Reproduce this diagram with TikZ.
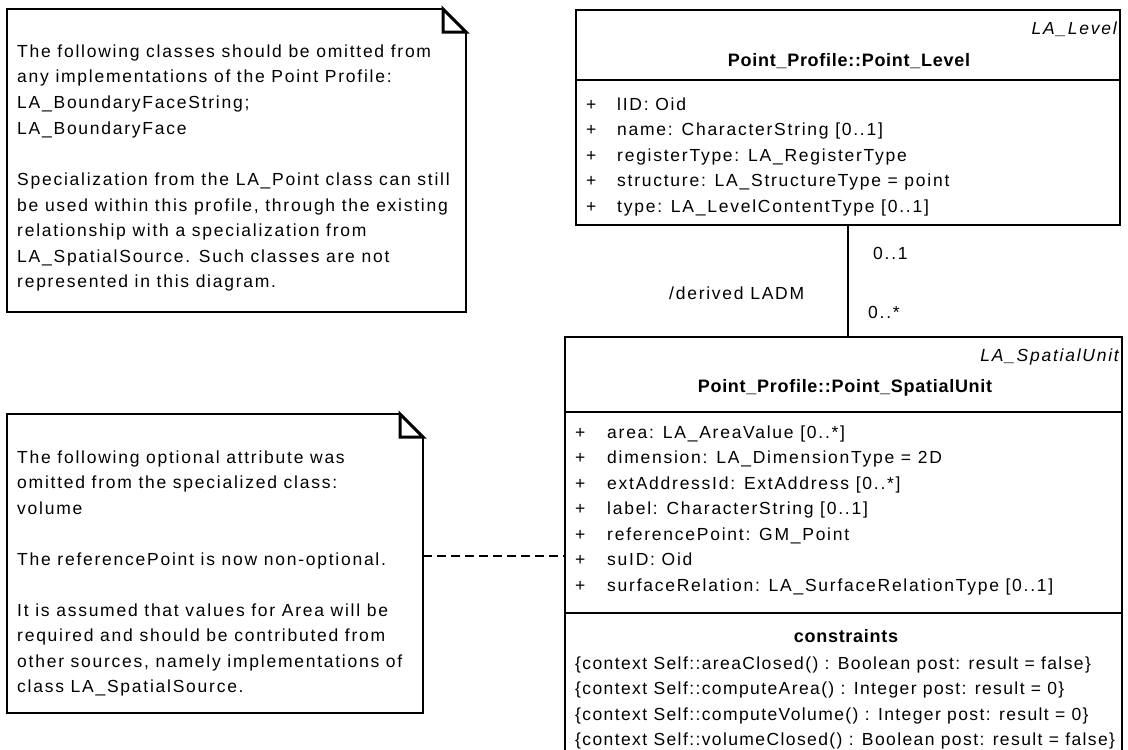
\documentclass[tikz,border=0pt]{standalone}
\usepackage{fontspec}
\setmainfont[LetterSpace=10]{Liberation Sans}
\newfontfamily\consfont[LetterSpace=8]{Liberation Sans}
\newfontfamily\namefont[LetterSpace=4]{Liberation Sans}
\begin{document}
\begin{tikzpicture}[x=1pt,y=-1pt,
  txt/.style={anchor=base west, inner sep=0, font=\fontsize{17.5}{20}\selectfont},
  constxt/.style={anchor=base west, inner sep=0, font=\fontsize{17.5}{20}\consfont},
  bold/.style={anchor=base, inner sep=0, font=\fontsize{18}{20}\namefont\bfseries},
  stereo/.style={anchor=base east, inner sep=0, font=\fontsize{17.5}{20}\selectfont\itshape},
  box/.style={inner sep=0, outer sep=0},
  classbd/.style={line width=2.6pt},
  divider/.style={line width=2.2pt},
  notebd/.style={line width=1.8pt, line join=miter},
  fold/.style={line width=3pt, line join=miter},
  assoc/.style={line width=2.2pt},
  anchorline/.style={line width=2.2pt, dash pattern=on 9pt off 5pt}
]
\clip (0,0) rectangle (1128,750);
\fill[white] (0,0) rectangle (1128,750);

% ---------- Note 1 ----------
\node[box, minimum width=459pt, minimum height=303pt] (n1) at (236.5,160.5) {};
\draw[notebd] (n1.south west) -- (n1.north west) -- ([xshift=-23pt]n1.north east)
  -- ([yshift=-23pt]n1.north east) -- (n1.south east) -- cycle;
\draw[fold] ([xshift=-23pt]n1.north east) -- ([xshift=-23pt,yshift=-23pt]n1.north east)
  -- ([yshift=-23pt]n1.north east) -- cycle;
\node[txt] (n1a) at (17,57) {The following classes should be omitted from};
\node[txt] (n1b) at (17,82.5) {any implementations of the Point Profile:};
\node[txt] (n1c) at (17,108) {LA\_BoundaryFaceString;};
\node[txt] (n1d) at (17,134) {LA\_BoundaryFace};
\node[txt] (n1e) at (17,185) {Specialization from the LA\_Point class can still};
\node[txt] (n1f) at (17,211) {be used within this profile, through the existing};
\node[txt] (n1g) at (17,236) {relationship with a specialization from};
\node[txt] (n1h) at (17,262) {LA\_SpatialSource. Such classes are not};
\node[txt] (n1i) at (17,287.5) {represented in this diagram.};

% ---------- Note 2 ----------
\node[box, minimum width=416pt, minimum height=299pt] (n2) at (215,563.5) {};
\draw[notebd] (n2.south west) -- (n2.north west) -- ([xshift=-23pt]n2.north east)
  -- ([yshift=-23pt]n2.north east) -- (n2.south east) -- cycle;
\draw[fold] ([xshift=-23pt]n2.north east) -- ([xshift=-23pt,yshift=-23pt]n2.north east)
  -- ([yshift=-23pt]n2.north east) -- cycle;
\node[txt] (n2a) at (17,463) {The following optional attribute was};
\node[txt] (n2b) at (17,488.5) {omitted from the specialized class:};
\node[txt] (n2c) at (17,514) {volume};
\node[txt] (n2d) at (17,565) {The referencePoint is now non-optional.};
\node[txt] (n2e) at (17,616) {It is assumed that values for Area will be};
\node[txt] (n2f) at (17,641.5) {required and should be contributed from};
\node[txt] (n2g) at (17,667) {other sources, namely implementations of};
\node[txt] (n2h) at (17,692.5) {class LA\_SpatialSource.};

% ---------- Class Point_Level ----------
\node[box, draw, classbd, minimum width=544pt, minimum height=215pt] (lvl) at (848,117.5) {};
\draw[divider] (lvl.west |- 0,80) -- (lvl.east |- 0,80);
\node[stereo] (lvls) at (1117,34) {LA\_Level};
\node[bold] (lvln) at (849,66) {Point\_Profile::Point\_Level};
\node[txt] (lp1) at (586,110) {+};
\node[txt] (la1) at (617,110) {lID: Oid};
\node[txt] (lp2) at (586,135.5) {+};
\node[txt] (la2) at (617,135.5) {name: CharacterString [0..1]};
\node[txt] (lp3) at (586,161) {+};
\node[txt] (la3) at (617,161) {registerType: LA\_RegisterType};
\node[txt] (lp4) at (586,186.5) {+};
\node[txt] (la4) at (617,186.5) {structure: LA\_StructureType = point};
\node[txt] (lp5) at (586,212) {+};
\node[txt] (la5) at (617,212) {type: LA\_LevelContentType [0..1]};

% ---------- Class Point_SpatialUnit ----------
\node[box, draw, classbd, minimum width=557pt, minimum height=433pt] (su) at (843.5,553.5) {};
\draw[divider] (su.west |- 0,412) -- (su.east |- 0,412);
\draw[divider] (su.west |- 0,613) -- (su.east |- 0,613);
\node[stereo] (sus) at (1119,361) {LA\_SpatialUnit};
\node[bold] (sun) at (845,392) {Point\_Profile::Point\_SpatialUnit};
\node[txt] (sp1) at (575,438) {+};
\node[txt] (sa1) at (607,438) {area: LA\_AreaValue [0..*]};
\node[txt] (sp2) at (575,463.5) {+};
\node[txt] (sa2) at (607,463.5) {dimension: LA\_DimensionType = 2D};
\node[txt] (sp3) at (575,489) {+};
\node[txt] (sa3) at (607,489) {extAddressId: ExtAddress [0..*]};
\node[txt] (sp4) at (575,514.5) {+};
\node[txt] (sa4) at (607,514.5) {label: CharacterString [0..1]};
\node[txt] (sp5) at (575,540) {+};
\node[txt] (sa5) at (607,540) {referencePoint: GM\_Point};
\node[txt] (sp6) at (575,565.5) {+};
\node[txt] (sa6) at (607,565.5) {suID: Oid};
\node[txt] (sp7) at (575,591) {+};
\node[txt] (sa7) at (607,591) {surfaceRelation: LA\_SurfaceRelationType [0..1]};
\node[bold] (cons) at (846,642) {constraints};
\node[constxt] (c1) at (575,669) {\{context Self::areaClosed() : Boolean post: result = false\}};
\node[constxt] (c2) at (575,694.5) {\{context Self::computeArea() : Integer post: result = 0\}};
\node[constxt] (c3) at (575,720) {\{context Self::computeVolume() : Integer post: result = 0\}};
\node[constxt] (c4) at (575,745.5) {\{context Self::volumeClosed() : Boolean post: result = false\}};

% ---------- Association ----------
\draw[assoc] (lvl.south) -- (lvl.south |- su.north);
\node[txt] (m1) at (873,259) {0..1};
\node[txt] (m2) at (669,299) {/derived LADM};
\node[txt] (m3) at (868,318) {0..*};

% ---------- Note anchor ----------
\coordinate (dy) at (0,556);
\draw[anchorline] (n2.east |- dy) -- (su.west |- dy);
\end{tikzpicture}
\end{document}
